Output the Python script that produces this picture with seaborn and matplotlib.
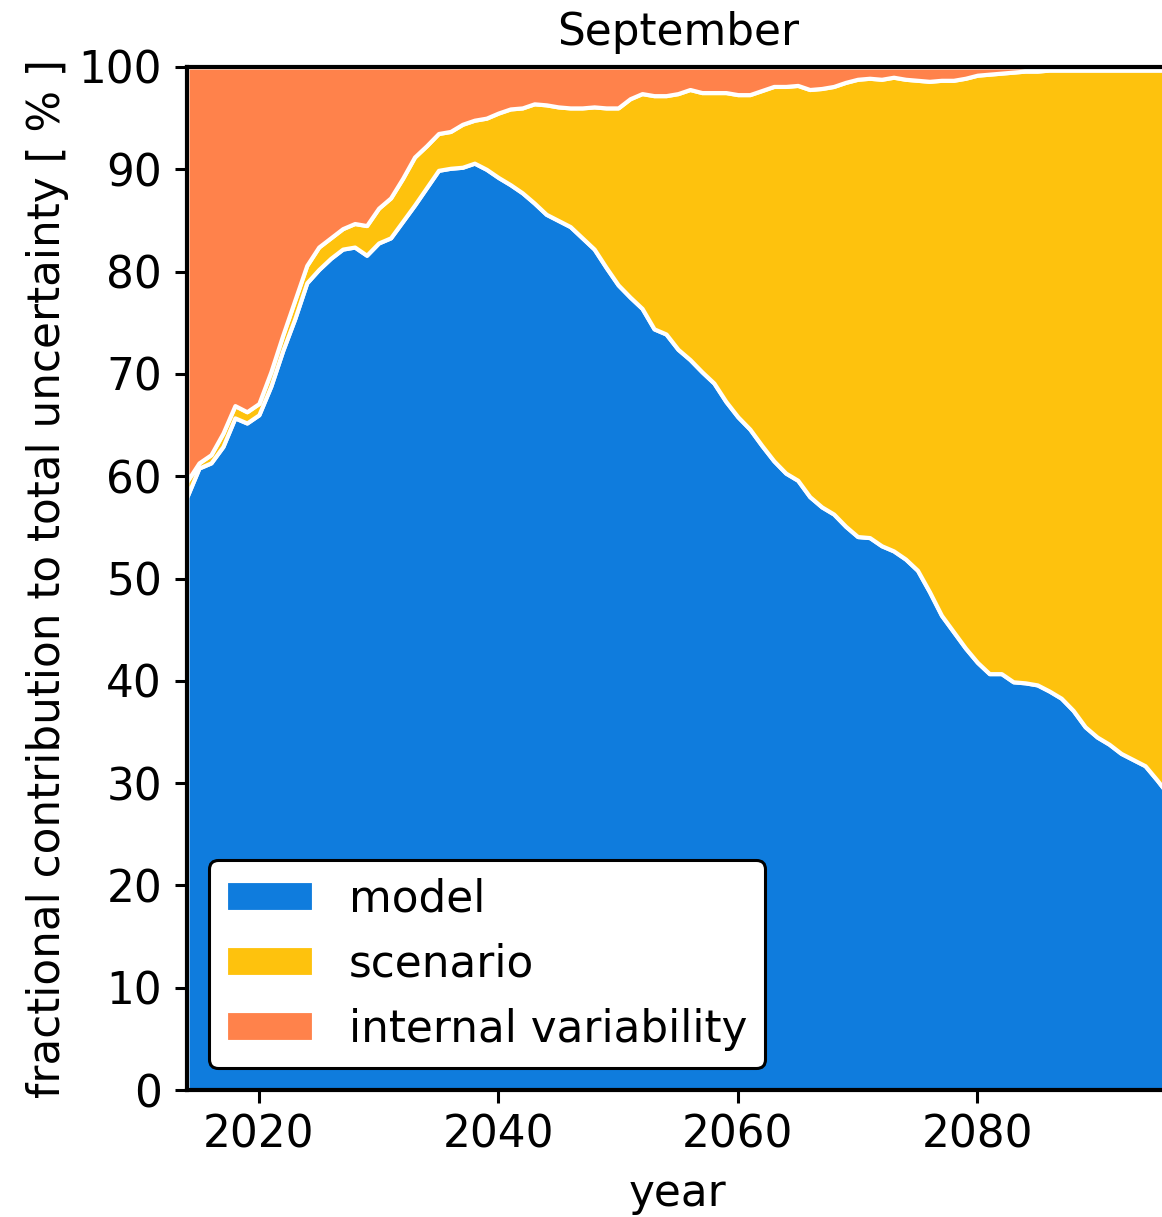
import matplotlib
matplotlib.use("Agg")
import matplotlib.pyplot as plt
import seaborn as sns
import numpy as np

# Share of total projection uncertainty for September, per year (percent)
years = list(range(2014, 2097))

model = [
    58.0, 60.8, 61.3, 62.9, 65.7, 65.2, 66.0, 68.8, 72.3, 75.4,
    78.9, 80.2, 81.3, 82.2, 82.4, 81.6, 82.8, 83.3, 84.9, 86.5,
    88.2, 89.9, 90.1, 90.2, 90.6, 90.0, 89.2, 88.5, 87.7, 86.7,
    85.6, 85.0, 84.4, 83.3, 82.2, 80.4, 78.7, 77.5, 76.4, 74.4,
    73.9, 72.4, 71.4, 70.2, 69.1, 67.3, 65.8, 64.6, 63.0, 61.5,
    60.3, 59.6, 58.0, 57.0, 56.3, 55.1, 54.1, 54.0, 53.2, 52.7,
    51.9, 50.8, 48.7, 46.4, 44.8, 43.2, 41.8, 40.7, 40.7, 39.9,
    39.8, 39.6, 39.0, 38.3, 37.1, 35.5, 34.5, 33.8, 32.9, 32.3,
    31.7, 30.3, 28.8,
]

scenario = [
    1.5, 0.5, 0.8, 1.3, 1.2, 1.1, 1.1, 1.4, 1.5, 1.8,
    1.7, 2.2, 2.0, 2.0, 2.3, 2.9, 3.4, 3.9, 4.2, 4.7,
    4.1, 3.6, 3.6, 4.2, 4.2, 5.0, 6.3, 7.4, 8.3, 9.7,
    10.7, 11.1, 11.6, 12.7, 13.9, 15.6, 17.3, 19.4, 21.0, 22.8,
    23.3, 25.0, 26.4, 27.3, 28.4, 30.2, 31.5, 32.7, 34.7, 36.6,
    37.8, 38.6, 39.8, 40.9, 41.8, 43.4, 44.7, 44.9, 45.6, 46.3,
    46.9, 47.9, 49.9, 52.3, 53.9, 55.7, 57.4, 58.6, 58.7, 59.6,
    59.8, 60.0, 60.7, 61.4, 62.6, 64.2, 65.2, 65.9, 66.8, 67.4,
    68.0, 69.4, 70.9,
]

internal = [
    40.5, 38.7, 37.9, 35.8, 33.1, 33.7, 32.9, 29.8, 26.2, 22.8,
    19.4, 17.6, 16.7, 15.8, 15.3, 15.5, 13.8, 12.8, 10.9, 8.8,
    7.7, 6.5, 6.3, 5.6, 5.2, 5.0, 4.5, 4.1, 4.0, 3.6,
    3.7, 3.9, 4.0, 4.0, 3.9, 4.0, 4.0, 3.1, 2.6, 2.8,
    2.8, 2.6, 2.2, 2.5, 2.5, 2.5, 2.7, 2.7, 2.3, 1.9,
    1.9, 1.8, 2.2, 2.1, 1.9, 1.5, 1.2, 1.1, 1.2, 1.0,
    1.2, 1.3, 1.4, 1.3, 1.3, 1.1, 0.8, 0.7, 0.6, 0.5,
    0.4, 0.4, 0.3, 0.3, 0.3, 0.3, 0.3, 0.3, 0.3, 0.3,
    0.3, 0.3, 0.3,
]

labels = ["model", "scenario", "internal variability"]
colors = ["#0F7CDD", "#FEC20D", "#FF824B"]

yticks = list(range(0, 101, 10))
xticks = [2020, 2040, 2060, 2080]

sns.set_theme(style="ticks")
plt.rcParams["font.family"] = ["DejaVu Sans"]
plt.rcParams.update({
    "font.size": 31.5,
    "axes.linewidth": 3.0,
    "xtick.major.width": 2.2,
    "ytick.major.width": 2.2,
    "xtick.major.size": 9,
    "ytick.major.size": 9,
    "xtick.major.pad": 8,
    "ytick.major.pad": 9,
    "xtick.color": "black",
    "ytick.color": "black",
    "axes.edgecolor": "black",
    "text.color": "black",
    "axes.labelcolor": "black",
})

W, H = 1162, 1217
fig = plt.figure(figsize=(W / 100, H / 100), dpi=100)
ax = fig.add_axes([187 / W, 127 / H, (1169 - 187) / W, (1150 - 127) / H])

ax.stackplot(years, model, scenario, internal, labels=labels, colors=colors,
             edgecolor="white", linewidth=3.0)

ax.set_xlim(2014, 2096)
ax.set_ylim(0, 100)
ax.set_xticks(xticks)
ax.set_yticks(yticks)
ax.tick_params(labelsize=31.5)

ax.set_xlabel("year", fontsize=31.5, labelpad=11)
ax.set_ylabel("fractional contribution to total uncertainty [ % ]", fontsize=31.5, labelpad=7)
ax.set_title("September", fontsize=31.5, pad=16)

leg = ax.legend(loc="lower left", fontsize=31.5, frameon=True, fancybox=True,
                framealpha=1.0, edgecolor="black", labelspacing=0.5)
leg.get_frame().set_linewidth(2.2)

for side in ["left", "bottom", "top", "right"]:
    ax.spines[side].set_visible(True)
    ax.spines[side].set_zorder(5)

fig.savefig("out.png", dpi=100)
